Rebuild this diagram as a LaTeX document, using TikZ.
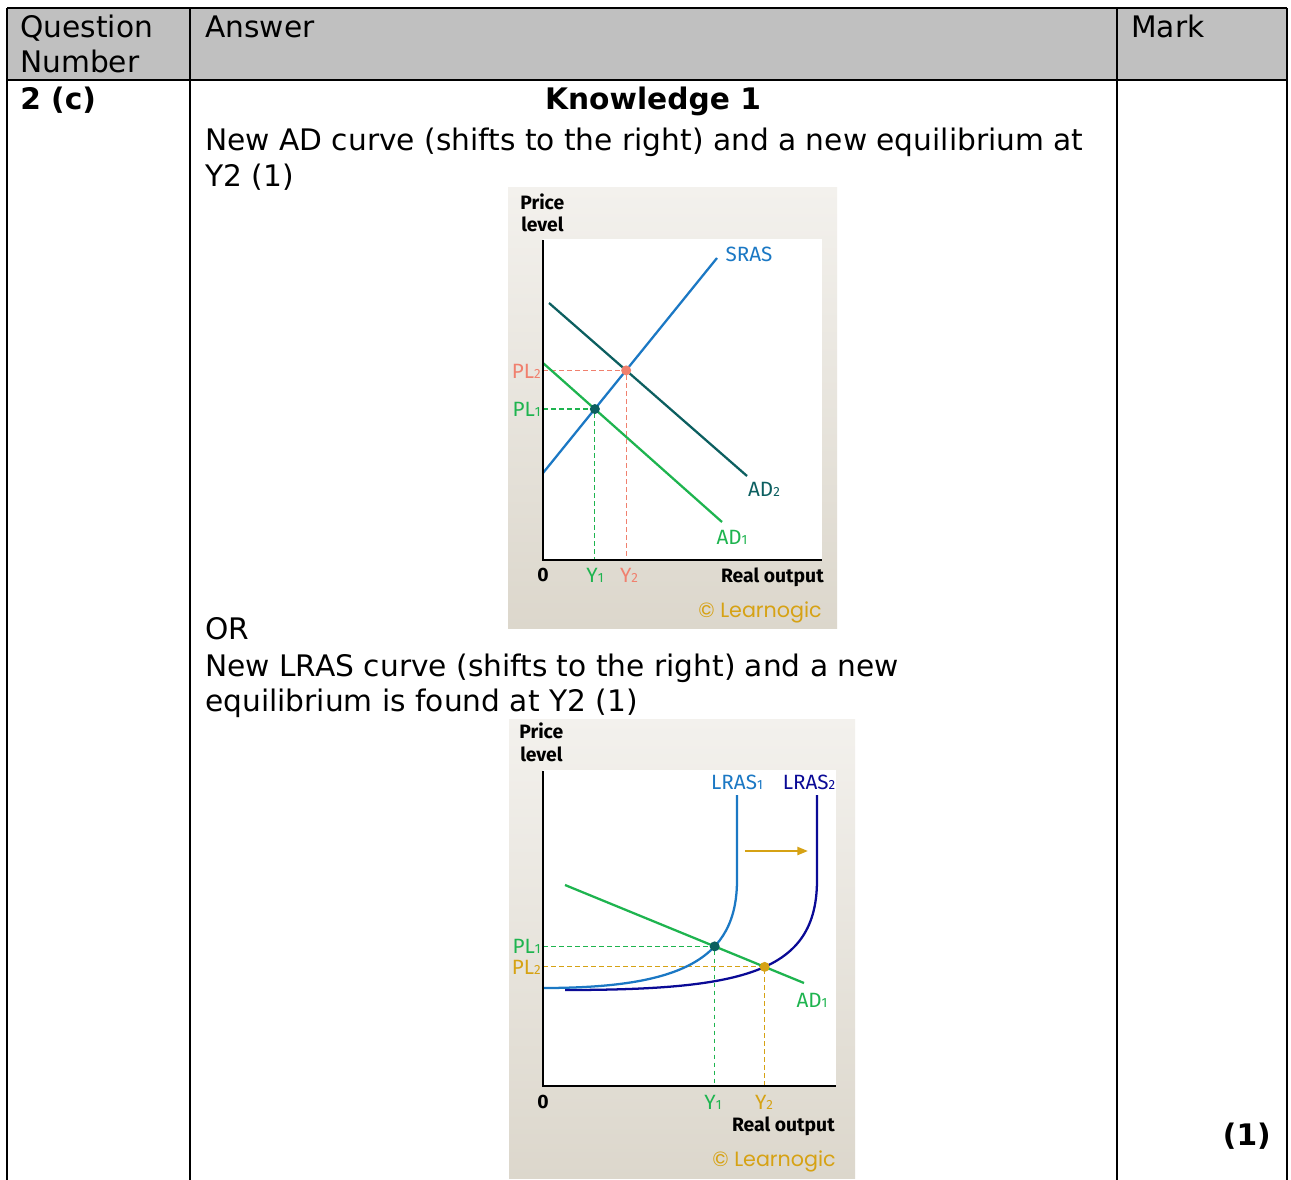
\documentclass[tikz,border=0pt]{standalone}
\usepackage{fontspec}
\setmainfont{DejaVu Sans}
\newfontfamily\chartfont{Fira Sans}
\newfontfamily\brandfont{Poppins}
\usetikzlibrary{positioning,arrows.meta,intersections}

\definecolor{headgray}{HTML}{C0C0C0}
\definecolor{panelTop}{HTML}{F3F1ED}
\definecolor{panelBot}{HTML}{DCD7CC}
\definecolor{srasblue}{HTML}{1B78C4}
\definecolor{adteal}{HTML}{0C5F60}
\definecolor{adgreen}{HTML}{1EB44F}
\definecolor{salmon}{HTML}{F0806E}
\definecolor{goldish}{HTML}{D6A214}
\definecolor{navy}{HTML}{0A0A96}
\newcommand{\lo}[1]{{\fontsize{10}{10}\selectfont #1}}

\begin{document}
\begin{tikzpicture}[x=0.75pt,y=-0.75pt,
    txt/.style={inner sep=0pt, anchor=base west, font=\fontsize{22.25}{27}\selectfont},
    bold/.style={txt, font=\fontsize{22.25}{27}\selectfont\bfseries},
    rule/.style={line width=2.2pt, black},
    lbl/.style={inner sep=0pt, font=\chartfont\fontsize{15.5}{15.5}\selectfont},
    axislbl/.style={inner sep=0pt, font=\chartfont\fontsize{14.5}{16}\selectfont\bfseries},
    brand/.style={inner sep=0pt, text=goldish, font=\brandfont\fontsize{15.5}{15.5}\selectfont},
    curve/.style={line width=1.7pt},
    guide/.style={line width=0.9pt, dash pattern=on 3.5pt off 2.5pt},
    axis/.style={line width=2pt, black},
    dot/.style={circle, fill, inner sep=0pt, minimum size=7.5pt}
]
    \useasboundingbox (0,0) rectangle (1291,1180);
    \fill[white] (0,0) rectangle (1291,1180);

    % table
    \fill[headgray] (7,8) rectangle (1287,80);
    \draw[rule] (7,8) -- (1287,8);
    \draw[rule] (7,80) -- (1287,80);
    \draw[rule] (7,8) -- (7,1180);
    \draw[rule] (190,8) -- (190,1180);
    \draw[rule] (1117,8) -- (1117,1180);
    \draw[rule] (1287,8) -- (1287,1180);

    \node[txt] (qhead) at (20,38) {Question};
    \node[txt] (qhead2) at (20,73) {Number};
    \node[txt] (ahead) at (205,38) {Answer};
    \node[txt] (mhead) at (1131,38) {Mark};
    \node[bold] (qnum) at (20,110) {2 (c)};
    \node[bold, anchor=base] (know) at (653,110) {Knowledge 1};
    \node[txt] (lineA) at (205,151) {New AD curve (shifts to the right) and a new equilibrium at};
    \node[txt] (lineB) at (205,187) {Y2 (1)};
    \node[txt] (orline) at (205,639) {OR};
    \node[txt] (lineC) at (205,676) {New LRAS curve (shifts to the right) and a new};
    \node[txt] (lineD) at (205,711) {equilibrium is found at Y2 (1)};
    \node[bold, anchor=base east] (mark) at (1271,1145) {(1)};

    % first chart: AD shift
    \fill[top color=panelTop, bottom color=panelBot] (508,188) rectangle (837,628);
    \fill[white] (543,239) rectangle (822,560);
    \coordinate (oA) at (543,560);
    \coordinate (srasA) at (543,473);
    \coordinate (srasB) at (717,258);
    \coordinate (adtwoA) at (549,303);
    \coordinate (adtwoB) at (747,476);
    \coordinate (adoneA) at (543,363);
    \coordinate (adoneB) at (722,522);
    \coordinate (eone) at (intersection of srasA--srasB and adoneA--adoneB);
    \coordinate (etwo) at (intersection of srasA--srasB and adtwoA--adtwoB);

    \draw[guide, adgreen] (eone -| oA) -- (eone) -- (eone |- oA);
    \draw[guide, salmon] (etwo -| oA) -- (etwo) -- (etwo |- oA);
    \draw[curve, adgreen] (adoneA) -- (adoneB);
    \draw[curve, adteal] (adtwoA) -- (adtwoB);
    \draw[curve, srasblue] (srasA) -- (srasB);
    \draw[axis] (543,240) -- (oA) -- (822,560);
    \node[dot, adteal] at (eone) {};
    \node[dot, salmon] at (etwo) {};

    \node[axislbl, anchor=base west] (pA) at (520,210) {Price};
    \node[axislbl, anchor=base west] (pB) at (521,232) {level};
    \node[lbl, text=srasblue] (srasL) at (749,254) {SRAS};
    \node[lbl, text=adteal] (adtwoL) at (764,489) {AD\lo{2}};
    \node[lbl, text=adgreen] (adoneL) at (732,537) {AD\lo{1}};
    \node[lbl, text=salmon, anchor=east] (pltwoL) at (541,371) {PL\lo{2}};
    \node[lbl, text=adgreen, anchor=east] (ploneL) at (541,409) {PL\lo{1}};
    \node[axislbl] (zeroA) at (543,575) {0};
    \node[lbl, text=adgreen] (yoneL) at (595,575) {Y\lo{1}};
    \node[lbl, text=salmon] (ytwoL) at (629,575) {Y\lo{2}};
    \node[axislbl, anchor=east] (realA) at (824,577) {Real output};
    \node[brand, anchor=east] (brandA) at (822,612) {© Learnogic};

    % second chart: LRAS shift
    \fill[top color=panelTop, bottom color=panelBot] (509,719) rectangle (855,1178);
    \fill[white] (543,770) rectangle (836,1086);
    \coordinate (oB) at (543,1086);
    \coordinate (adA) at (565,885);
    \coordinate (adB) at (804,983);

    \path[name path=lrasone] (543,988) .. controls (680,988) and (737,960) .. (737,880) -- (737,795);
    \path[name path=lrastwo] (565,990) .. controls (745,990) and (817,972) .. (817,880) -- (817,795);
    \path[name path=adline] (adA) -- (adB);
    \path[name intersections={of=lrasone and adline, by=ethree}];
    \path[name intersections={of=lrastwo and adline, by=efour}];

    \draw[guide, adgreen] (ethree -| oB) -- (ethree) -- (ethree |- oB);
    \draw[guide, goldish] (efour -| oB) -- (efour) -- (efour |- oB);
    \draw[curve, navy] (565,990) .. controls (745,990) and (817,972) .. (817,880) -- (817,795);
    \draw[curve, srasblue] (543,988) .. controls (680,988) and (737,960) .. (737,880) -- (737,795);
    \draw[curve, adgreen] (adA) -- (adB);
    \draw[axis] (543,771) -- (oB) -- (836,1086);
    \draw[line width=1.6pt, goldish, -{Triangle[length=8pt,width=6pt]}] (745,851) -- (808,851);
    \node[dot, adteal] at (ethree) {};
    \node[dot, goldish] at (efour) {};

    \node[axislbl, anchor=base west] (pC) at (519,738) {Price};
    \node[axislbl, anchor=base west] (pD) at (520,761) {level};
    \node[lbl, text=srasblue] (lrasoneL) at (737,782) {LRAS\lo{1}};
    \node[lbl, text=navy] (lrastwoL) at (809,782) {LRAS\lo{2}};
    \node[lbl, text=adgreen, anchor=east] (plthreeL) at (541,946) {PL\lo{1}};
    \node[lbl, text=goldish, anchor=east] (plfourL) at (541,967) {PL\lo{2}};
    \node[lbl, text=adgreen] (adthreeL) at (812,1000) {AD\lo{1}};
    \node[axislbl] (zeroB) at (543,1102) {0};
    \node[lbl, text=adgreen] (ythreeL) at (713,1102) {Y\lo{1}};
    \node[lbl, text=goldish] (yfourL) at (764,1102) {Y\lo{2}};
    \node[axislbl, anchor=east] (realB) at (835,1126) {Real output};
    \node[brand, anchor=east] (brandB) at (836,1161) {© Learnogic};
\end{tikzpicture}
\end{document}
